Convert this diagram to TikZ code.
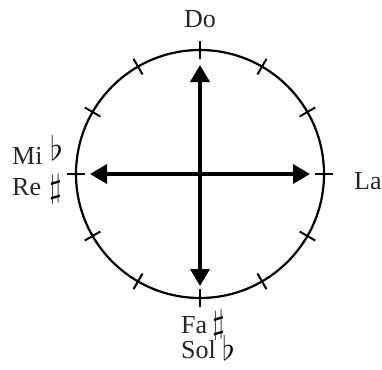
\documentclass[tikz,border=0pt]{standalone}
\usepackage{fontspec}
\setmainfont{Liberation Serif}
\usetikzlibrary{arrows.meta}
\begin{document}
\begin{tikzpicture}[x=1pt,y=-1pt,
  lbl/.style={font=\fontsize{26}{28}\selectfont, inner sep=0pt, text=black!85},
  acc/.style={font=\fontsize{24}{26}\selectfont, inner sep=0pt, text=black},
  ring/.style={line width=2.2pt},
  tick/.style={line width=2pt},
  bigarrow/.style={line width=3.5pt, {Triangle[length=17pt,width=19pt]}-{Triangle[length=17pt,width=19pt]}}]
\useasboundingbox (0,0) rectangle (382,369);
\coordinate (c) at (200,174);
\draw[ring] (c) circle[radius=124pt];
\foreach \a in {0,30,...,330}
  \draw[tick] ([shift={(\a:115pt)}]c) -- ([shift={(\a:133pt)}]c);
\coordinate (top) at (200,65);
\coordinate (bot) at (200,286);
\coordinate (lft) at (90,174);
\coordinate (rgt) at (310,174);
\draw[bigarrow] (top) -- (bot);
\draw[bigarrow] (lft) -- (rgt);
\node[lbl, anchor=base] (do) at (200,28) {Do};
\node[lbl, anchor=base west] (la) at (354,189) {La};
\node[lbl, anchor=base west] (mi) at (12,164) {Mi};
\node[acc, anchor=base west] (mib) at (50,160) {\scalebox{1.35}{$\flat$}};
\node[lbl, anchor=base west] (re) at (12,195) {Re};
\node[acc, anchor=base west] (res) at (49,197) {\scalebox{1.35}{$\sharp$}};
\node[lbl, anchor=base west] (fa) at (181,333) {Fa};
\node[acc, anchor=base west] (fas) at (212,333) {\scalebox{1.35}{$\sharp$}};
\node[lbl, anchor=base west] (sol) at (181,358) {Sol};
\node[acc, anchor=base west] (solb) at (222,360) {\scalebox{1.35}{$\flat$}};
\end{tikzpicture}
\end{document}
